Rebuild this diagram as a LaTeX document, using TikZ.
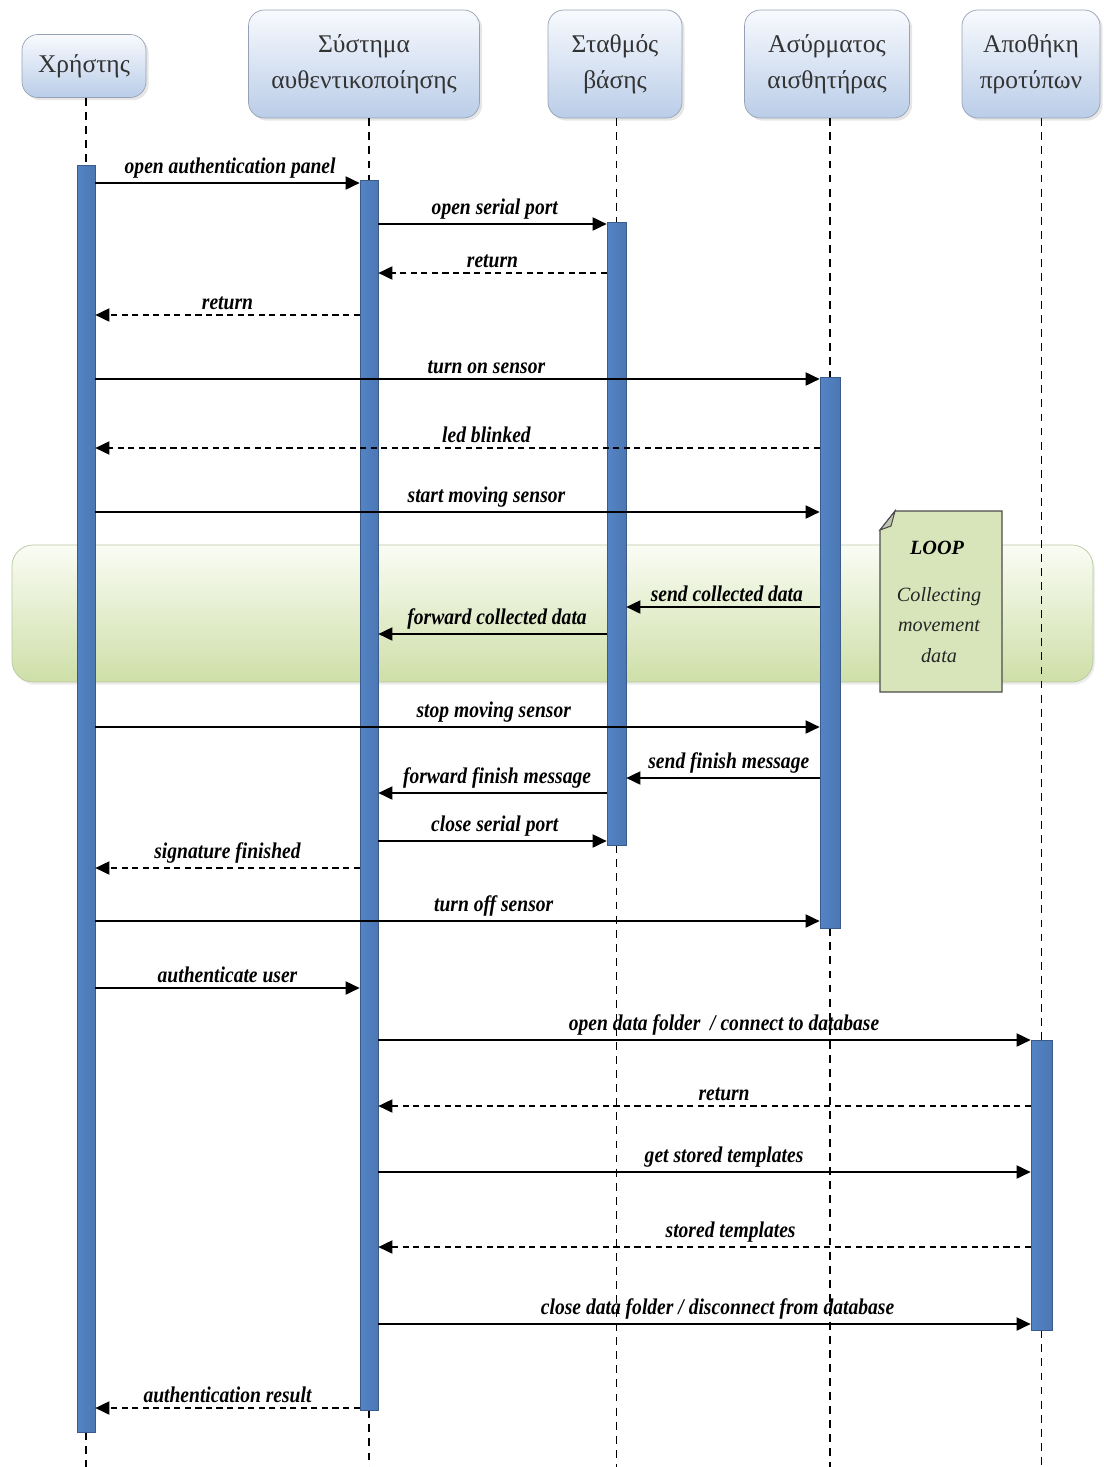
\documentclass[tikz,border=0pt]{standalone}
\usepackage{fontspec}
\setmainfont{Liberation Serif}
\newfontfamily\msgfont[FakeStretch=0.87]{Liberation Serif}
\usetikzlibrary{arrows.meta,fit,shadows}

\definecolor{barblue}{RGB}{84,132,198}
\definecolor{barlight}{RGB}{138,172,222}
\definecolor{hdrtop}{RGB}{248,250,254}
\definecolor{hdrbot}{RGB}{186,205,232}
\definecolor{hdrline}{RGB}{150,162,180}
\definecolor{looptop}{RGB}{250,252,244}
\definecolor{loopbot}{RGB}{206,223,168}
\definecolor{loopline}{RGB}{185,200,160}
\definecolor{notefill}{RGB}{216,229,186}

\begin{document}
\begin{tikzpicture}[x=0.02cm, y=-0.02cm,
    actor/.style={draw=hdrline, rounded corners=9pt, top color=hdrtop, bottom color=hdrbot,
        text=black!80, align=center, font=\fontsize{14.5}{20.5}\selectfont,
        drop shadow={opacity=0.2, shadow xshift=1.5pt, shadow yshift=-1.5pt}},
    bar/.style={draw=barblue!70!black, line width=0.4pt, left color=barblue, middle color=barlight,
        right color=barblue!90!black, inner sep=0pt},
    lifeline/.style={dash pattern=on 4.5pt off 3.5pt, line width=0.75pt},
    call/.style={line width=0.85pt, -{Triangle[length=8pt,width=7.5pt]}},
    reply/.style={call, dash pattern=on 3.5pt off 2.5pt},
    lbl/.style={midway, above, inner sep=2.5pt, font=\msgfont\bfseries\itshape\fontsize{12.8}{14}\selectfont},
    loopband/.style={draw=loopline, rounded corners=12pt, top color=looptop, bottom color=loopbot, inner sep=0pt,
        drop shadow={opacity=0.15, shadow xshift=1pt, shadow yshift=-1.5pt}},
    notebox/.style={draw=black!70, fill=notefill, line width=0.6pt},
]
\useasboundingbox (0,0) rectangle (1103,1467);
\coordinate (bottom) at (0,1467);

% loop region
\node[loopband, fit={(12,545) (1093,682)}] (loop) {};

% participants
\node[actor, minimum width=2.48cm, minimum height=1.26cm] (user) at (84,66) {Χρήστης};
\node[actor, minimum width=4.62cm, minimum height=2.16cm] (auth) at (364,64) {Σύστημα\\αυθεντικοποίησης};
\node[actor, minimum width=2.68cm, minimum height=2.16cm] (base) at (615,64) {Σταθμός\\βάσης};
\node[actor, minimum width=3.3cm, minimum height=2.16cm] (sensor) at (827,64) {Ασύρματος\\αισθητήρας};
\node[actor, minimum width=2.76cm, minimum height=2.16cm] (store) at (1031,64) {Αποθήκη\\προτύπων};

% activation bars
\node[bar, fit={(77,165) (95,1432)}] (ubar) {};
\node[bar, fit={(360,180) (378,1410)}] (abar) {};
\node[bar, fit={(607,222) (626,845)}] (bbar) {};
\node[bar, fit={(820,377) (840,928)}] (sbar) {};
\node[bar, fit={(1031,1040) (1052,1330)}] (tbar) {};

% lifelines
\draw[lifeline] (ubar.center |- user.south) -- (ubar.north);
\draw[lifeline] (ubar.south) -- (ubar.center |- bottom);
\draw[lifeline] (abar.center |- auth.south) -- (abar.north);
\draw[lifeline] (abar.south) -- (abar.center |- bottom);
\draw[lifeline] (bbar.center |- base.south) -- (bbar.north);
\draw[lifeline] (bbar.south) -- (bbar.center |- bottom);
\draw[lifeline] (sbar.center |- sensor.south) -- (sbar.north);
\draw[lifeline] (sbar.south) -- (sbar.center |- bottom);
\draw[lifeline] (tbar.center |- store.south) -- (tbar.north);
\draw[lifeline] (tbar.south) -- (tbar.center |- bottom);

% redraw bars above the lifelines
\node[bar, fit={(77,165) (95,1432)}] {};
\node[bar, fit={(360,180) (378,1410)}] {};
\node[bar, fit={(607,222) (626,845)}] {};
\node[bar, fit={(820,377) (840,928)}] {};
\node[bar, fit={(1031,1040) (1052,1330)}] {};

% loop note
\draw[notebox] (895,511) -- (1002,511) -- (1002,692) -- (880,692) -- (880,530) -- cycle;
\draw[notebox, fill=notefill!70!black!60!white] (895,511) -- (891,526) -- (880,530) -- cycle;
\node[font=\bfseries\itshape\fontsize{11.5}{13}\selectfont] (looptitle) at (937,548) {LOOP};
\node[align=center, font=\itshape\fontsize{11.5}{17.5}\selectfont, text=black!85] (looptext) at (939,625) {Collecting\\movement\\data};

% messages
\draw[call] (ubar.east |- 0,183) -- (abar.west |- 0,183) node[lbl, pos=0.51] (m1) {open authentication panel};
\draw[call] (abar.east |- 0,224) -- (bbar.west |- 0,224) node[lbl, pos=0.51] (m2) {open serial port};
\draw[reply] (bbar.west |- 0,273) -- (abar.east |- 0,273) node[lbl] (m3) {return};
\draw[reply] (abar.west |- 0,315) -- (ubar.east |- 0,315) node[lbl] (m4) {return};
\draw[call] (ubar.east |- 0,379) -- (sbar.west |- 0,379) node[lbl, pos=0.54] (m5) {turn on sensor};
\draw[reply] (sbar.west |- 0,448) -- (ubar.east |- 0,448) node[lbl, pos=0.46] (m6) {led blinked};
\draw[call] (ubar.east |- 0,512) -- (sbar.west |- 0,512) node[lbl, pos=0.54] (m7) {start moving sensor};
\draw[call] (sbar.west |- 0,607) -- (bbar.east |- 0,607) node[lbl, pos=0.48] (m8) {send collected data};
\draw[call] (bbar.west |- 0,634) -- (abar.east |- 0,634) node[lbl, pos=0.48] (m9) {forward collected data};
\draw[call] (ubar.east |- 0,727) -- (sbar.west |- 0,727) node[lbl, pos=0.55] (m10) {stop moving sensor};
\draw[call] (sbar.west |- 0,778) -- (bbar.east |- 0,778) node[lbl, pos=0.47] (m11) {send finish message};
\draw[call] (bbar.west |- 0,793) -- (abar.east |- 0,793) node[lbl, pos=0.48] (m12) {forward finish message};
\draw[call] (abar.east |- 0,841) -- (bbar.west |- 0,841) node[lbl, pos=0.51] (m13) {close serial port};
\draw[reply] (abar.west |- 0,868) -- (ubar.east |- 0,868) node[lbl] (m14) {signature finished};
\draw[call] (ubar.east |- 0,921) -- (sbar.west |- 0,921) node[lbl, pos=0.55] (m15) {turn off sensor};
\draw[call] (ubar.east |- 0,988) -- (abar.west |- 0,988) node[lbl] (m16) {authenticate user};
\draw[call] (abar.east |- 0,1040) -- (tbar.west |- 0,1040) node[lbl, pos=0.53] (m17) {open data folder~ / connect to database};
\draw[reply] (tbar.west |- 0,1106) -- (abar.east |- 0,1106) node[lbl, pos=0.47] (m18) {return};
\draw[call] (abar.east |- 0,1172) -- (tbar.west |- 0,1172) node[lbl, pos=0.53] (m19) {get stored templates};
\draw[reply] (tbar.west |- 0,1247) -- (abar.east |- 0,1247) node[lbl, pos=0.46] (m20) {stored templates};
\draw[call] (abar.east |- 0,1324) -- (tbar.west |- 0,1324) node[lbl, pos=0.52] (m21) {close data folder / disconnect from database};
\draw[reply] (abar.west |- 0,1408) -- (ubar.east |- 0,1408) node[lbl] (m22) {authentication result};

\end{tikzpicture}
\end{document}
